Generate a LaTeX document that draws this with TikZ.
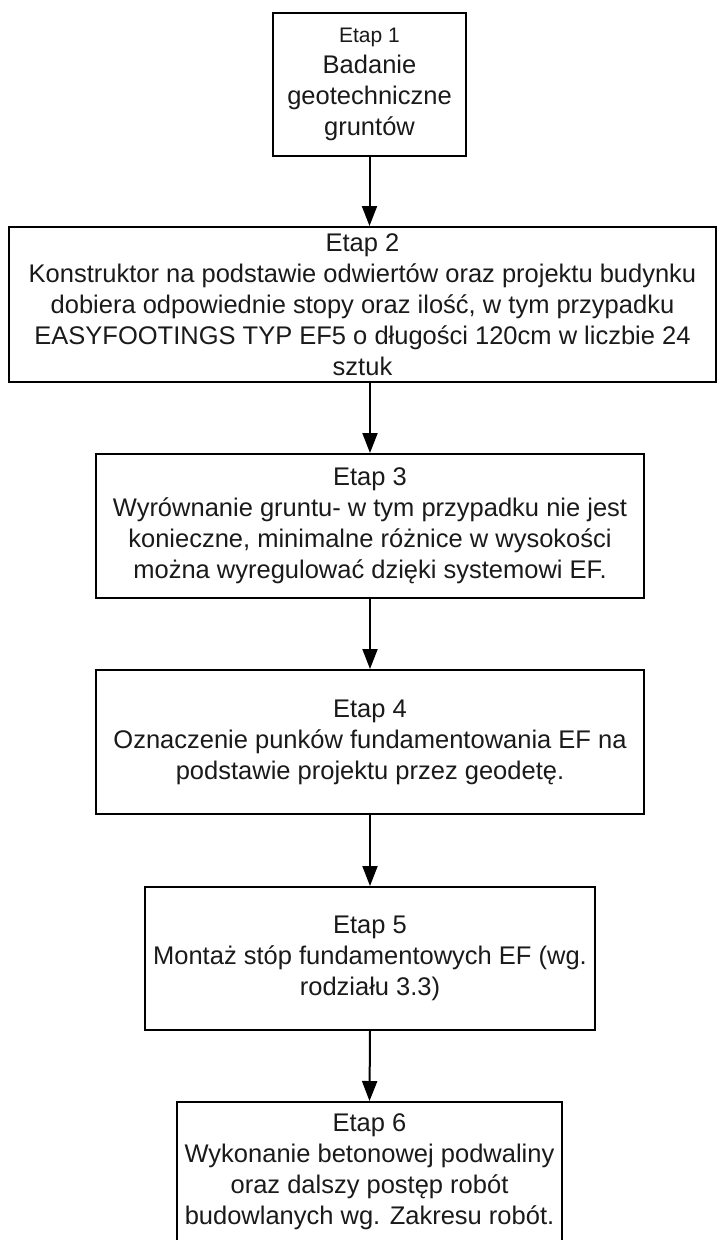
\documentclass[tikz,border=0pt]{standalone}
\usepackage{fontspec}
\setmainfont{Liberation Sans}
\usetikzlibrary{arrows.meta}
\definecolor{inkgrey}{HTML}{1A1A1A}
\begin{document}
\begin{tikzpicture}[x=1pt,y=-1pt,
  stagebox/.style={draw=black, line width=2pt, fill=white, align=center,
    inner sep=0pt, text=inkgrey, font=\fontsize{25.5}{31}\selectfont},
  flow/.style={draw=black, line width=2pt, -{Triangle[length=20pt,width=15pt]}}]
\useasboundingbox (0,0) rectangle (717,1240);
\clip (0,0) rectangle (717,1240);

\node[stagebox, minimum width=193pt, minimum height=143pt] (s1) at (369.5,84.5)
  {{\fontsize{21}{28}\selectfont Etap 1}\\Badanie\\geotechniczne\\gruntów};
\node[stagebox, minimum width=707pt, minimum height=155pt] (s2) at (362.5,304.5)
  {Etap 2\\Konstruktor na podstawie odwiertów oraz projektu budynku\\dobiera odpowiednie stopy oraz ilość, w tym przypadku\\EASYFOOTINGS TYP EF5 o długości 120cm w liczbie 24\\sztuk};
\node[stagebox, minimum width=548pt, minimum height=144pt] (s3) at (370,526)
  {Etap 3\\Wyrównanie gruntu- w tym przypadku nie jest\\konieczne, minimalne różnice w wysokości\\można wyregulować dzięki systemowi EF.};
\node[stagebox, minimum width=548pt, minimum height=144pt] (s4) at (370,742)
  {Etap 4\\Oznaczenie punków fundamentowania EF na\\podstawie projektu przez geodetę.};
\node[stagebox, minimum width=450pt, minimum height=143pt] (s5) at (370,958.5)
  {Etap 5\\Montaż stóp fundamentowych EF (wg.\\rodziału 3.3)};
\node[stagebox, minimum width=385pt, minimum height=140pt] (s6) at (369.5,1172)
  {Etap 6\\Wykonanie betonowej podwaliny\\oraz dalszy postęp robót\\budowlanych wg. Zakresu robót.};

\draw[flow] (s1.south) -- (s1.south |- s2.north);
\draw[flow] (s2.south -| s3.north) -- (s3.north);
\draw[flow] (s3.south) -- (s4.north);
\draw[flow] (s4.south) -- (s5.north);
\draw[flow] (s5.south) -- (s6.north);
\end{tikzpicture}
\end{document}
